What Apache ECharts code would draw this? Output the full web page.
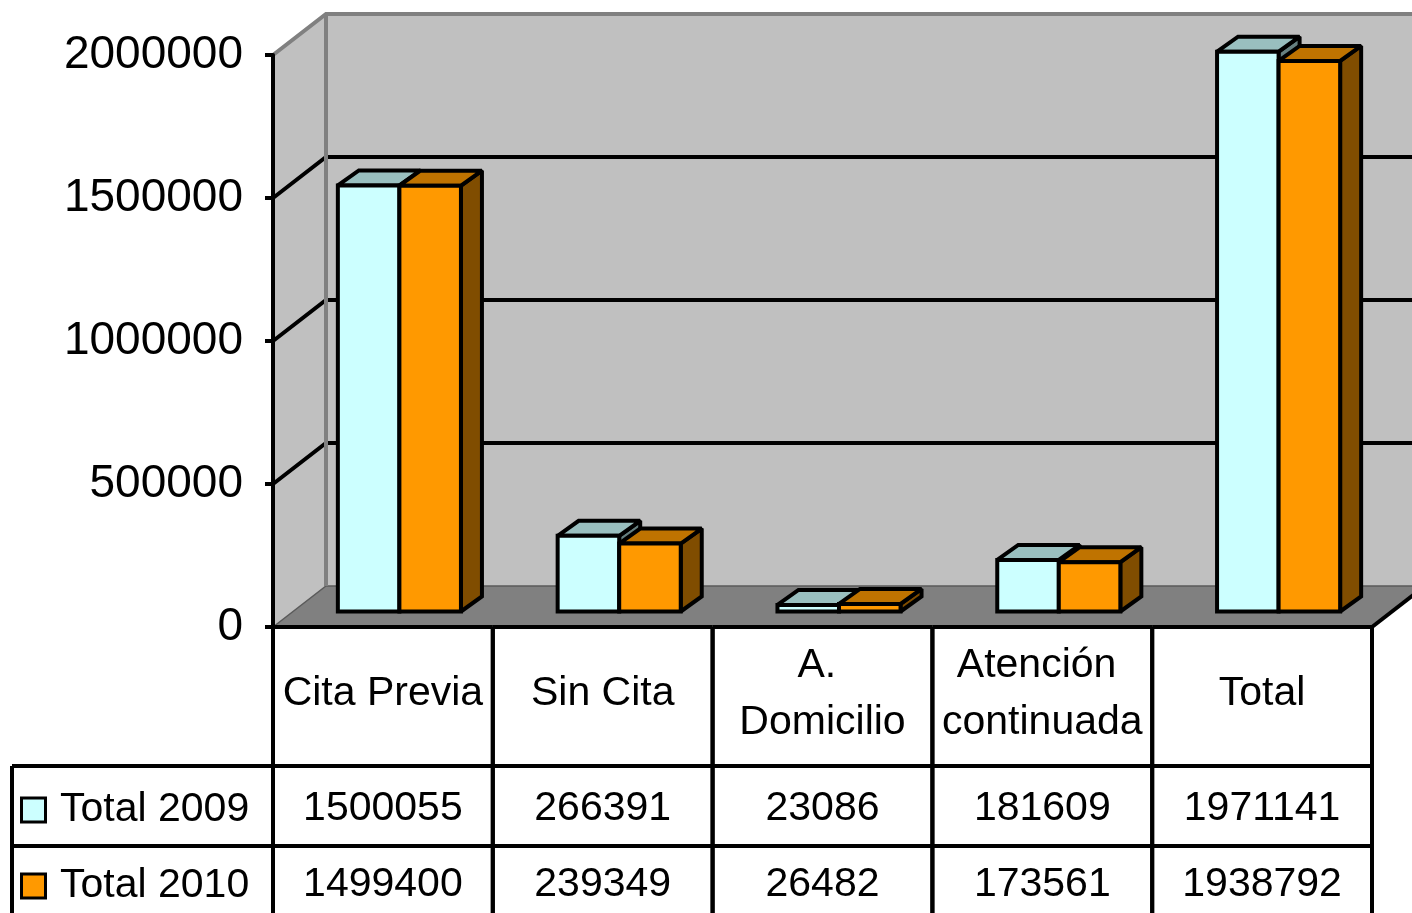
<!DOCTYPE html>
<html><head><meta charset="utf-8">
<script src="https://cdn.jsdelivr.net/npm/echarts@6/dist/echarts.min.js"></script>
<style>html,body{margin:0;padding:0;background:#fff;}#c{width:1412px;height:913px;}</style>
</head><body><div id="c"></div>
<script>
// ---- data ----
const categories = ['Cita Previa', 'Sin Cita', 'A. Domicilio', 'Atención continuada', 'Total'];
const seriesNames = ['Total 2009', 'Total 2010'];
const total2009 = [1500055, 266391, 23086, 181609, 1971141];
const total2010 = [1499400, 239349, 26482, 173561, 1938792];
const yTicks = [0, 500000, 1000000, 1500000, 2000000];

// ---- styling ----
const FONT = '"Liberation Sans", Arial, sans-serif';
const FRONT = ['#CCFFFF', '#FF9900'];
const TOP = ['#99BFBF', '#BF7300'];
const SIDE = ['#668080', '#804D00'];
const DX = 53, DY = 41;          // wall depth offset
const SHIFT_X = 16.5, SHIFT_Y = 15.5; // bar front plane offset
const BDX = 21, BDY = 15;        // bar depth
const LW = 4;
const seriesData = [total2009, total2010];

const chart = echarts.init(document.getElementById('c'), null, {renderer: 'canvas'});

function renderWalls(params, api) {
  const cs = params.coordSys;
  const x0 = cs.x, x1 = cs.x + cs.width;
  const y0 = api.coord([0, yTicks[0]])[1];
  const yTop = api.coord([0, yTicks[yTicks.length - 1]])[1];
  const ch = [];
  ch.push({type: 'polygon', shape: {points: [[x0 + DX, yTop - DY], [x1 + DX, yTop - DY], [x1 + DX, y0 - DY], [x0 + DX, y0 - DY]]}, style: {fill: '#C0C0C0'}});
  ch.push({type: 'polygon', shape: {points: [[x0, y0], [x0, yTop], [x0 + DX, yTop - DY], [x0 + DX, y0 - DY]]}, style: {fill: '#C0C0C0'}});
  ch.push({type: 'polygon', shape: {points: [[x0, y0], [x1, y0], [x1 + DX, y0 - DY], [x0 + DX, y0 - DY]]}, style: {fill: '#808080'}});
  yTicks.forEach(function (v, k) {
    if (k === 0 || k === yTicks.length - 1) return;
    const y = api.coord([0, v])[1];
    ch.push({type: 'polyline', shape: {points: [[x0, y], [x0 + DX, y - DY], [x1 + DX, y - DY]]}, style: {stroke: '#000', lineWidth: LW, fill: null}});
  });
  ch.push({type: 'polyline', shape: {points: [[x0, y0], [x0 + DX, y0 - DY], [x1 + DX, y0 - DY]]}, style: {stroke: '#5a5a5a', lineWidth: 1.5, fill: null}});
  ch.push({type: 'polyline', shape: {points: [[x0, yTop], [x0 + DX, yTop - DY], [x1 + DX, yTop - DY]]}, style: {stroke: '#808080', lineWidth: LW, fill: null}});
  ch.push({type: 'line', shape: {x1: x0 + DX, y1: yTop - DY, x2: x0 + DX, y2: y0 - DY}, style: {stroke: '#808080', lineWidth: LW}});
  ch.push({type: 'line', shape: {x1: x1, y1: y0, x2: x1 + DX, y2: y0 - DY}, style: {stroke: '#000', lineWidth: LW}});
  return {type: 'group', children: ch};
}

function makeBarRender(s) {
  return function (params, api) {
    const idx = api.value(0), v = api.value(1);
    const base = api.coord([idx, 0]);
    const top = api.coord([idx, v]);
    const band = api.size([1, 0])[0];
    const w = band * 0.28;
    const cx = base[0] + SHIFT_X;
    const xl = cx - w + s * w, xr = xl + w;
    const yb = base[1] - SHIFT_Y;
    const yt = yb - (base[1] - top[1]) * 0.993;
    const st = {stroke: '#000', lineWidth: LW, lineJoin: 'miter', miterLimit: 1.6};
    return {type: 'group', children: [
      {type: 'polygon', shape: {points: [[xr, yt], [xr + BDX, yt - BDY], [xr + BDX, yb - BDY], [xr, yb]]}, style: Object.assign({fill: SIDE[s]}, st)},
      {type: 'polygon', shape: {points: [[xl, yt], [xr, yt], [xr + BDX, yt - BDY], [xl + BDX, yt - BDY]]}, style: Object.assign({fill: TOP[s]}, st)},
      {type: 'rect', shape: {x: xl, y: yt, width: w, height: yb - yt}, style: Object.assign({fill: FRONT[s]}, st)}
    ]};
  };
}

function renderTable(params, api) {
  const i = api.value(0);
  const c = api.coord([i, 0]);
  const band = api.size([1, 0])[0];
  const xl = c[0] - band / 2, xr = c[0] + band / 2;
  const yH = c[1];
  const r1 = yH + 139, r2 = r1 + 80, r3 = r2 + 80;
  const ls = {stroke: '#000', lineWidth: LW};
  const ch = [];
  ch.push({type: 'line', shape: {x1: xl, y1: yH, x2: xr, y2: yH}, style: ls});
  ch.push({type: 'line', shape: {x1: xl, y1: r1, x2: xr, y2: r1}, style: ls});
  ch.push({type: 'line', shape: {x1: xl, y1: r2, x2: xr, y2: r2}, style: ls});
  ch.push({type: 'line', shape: {x1: xl, y1: yH, x2: xl, y2: r3}, style: ls});
  ch.push({type: 'line', shape: {x1: xr, y1: yH, x2: xr, y2: r3}, style: ls});
  ch.push({type: 'text', style: {text: categories[i], x: c[0], y: yH + 67, align: 'center', verticalAlign: 'middle',
    fontSize: 41, fontFamily: FONT, fill: '#000', lineHeight: 57, width: 210, overflow: 'break'}});
  seriesData.forEach(function (arr, s) {
    ch.push({type: 'text', style: {text: String(arr[i]), x: c[0], y: s === 0 ? yH + 182 : yH + 258, align: 'center', verticalAlign: 'middle',
      fontSize: 41, fontFamily: FONT, fill: '#000'}});
  });
  if (i === 0) {
    const lx = xl - 261;
    ch.push({type: 'line', shape: {x1: lx, y1: r1, x2: xl, y2: r1}, style: ls});
    ch.push({type: 'line', shape: {x1: lx, y1: r2, x2: xl, y2: r2}, style: ls});
    ch.push({type: 'line', shape: {x1: lx, y1: r1, x2: lx, y2: r3}, style: ls});
    seriesNames.forEach(function (nm, s) {
      const yc = s === 0 ? yH + 183 : yH + 259;
      ch.push({type: 'rect', shape: {x: lx + 9.5, y: yc - 12, width: 24, height: 24}, style: {fill: FRONT[s], stroke: '#000', lineWidth: 3}});
      ch.push({type: 'text', style: {text: nm, x: lx + 48, y: yc, align: 'left', verticalAlign: 'middle', fontSize: 41, fontFamily: FONT, fill: '#000'}});
    });
  }
  return {type: 'group', children: ch};
}

const option = {
  animation: false,
  backgroundColor: '#fff',
  grid: {left: 273, right: 40, top: 55, bottom: 286},
  xAxis: {type: 'category', data: categories, axisLine: {show: false}, axisTick: {show: false}, axisLabel: {show: false}, splitLine: {show: false}},
  yAxis: {type: 'value', min: yTicks[0], max: yTicks[yTicks.length - 1], interval: yTicks[1] - yTicks[0], z: 10,
    axisLine: {show: true, lineStyle: {color: '#000', width: LW}},
    axisTick: {show: true, length: 8, lineStyle: {color: '#000', width: LW}},
    axisLabel: {fontSize: 46, color: '#000', fontFamily: FONT, margin: 30, formatter: function (v) { return String(v); }},
    splitLine: {show: false}},
  series: [
    {type: 'custom', name: 'walls', renderItem: renderWalls, data: [[0, 0]], clip: false, z: 1, silent: true},
    {type: 'custom', name: seriesNames[0], renderItem: makeBarRender(0), data: total2009.map(function (v, i) { return [i, v]; }), encode: {x: 0, y: 1}, clip: false, z: 3},
    {type: 'custom', name: seriesNames[1], renderItem: makeBarRender(1), data: total2010.map(function (v, i) { return [i, v]; }), encode: {x: 0, y: 1}, clip: false, z: 4},
    {type: 'custom', name: 'table', renderItem: renderTable, data: categories.map(function (c, i) { return [i, 0]; }), encode: {x: 0, y: 1}, clip: false, z: 5, silent: true}
  ]
};
chart.setOption(option);
</script>
</body></html>
